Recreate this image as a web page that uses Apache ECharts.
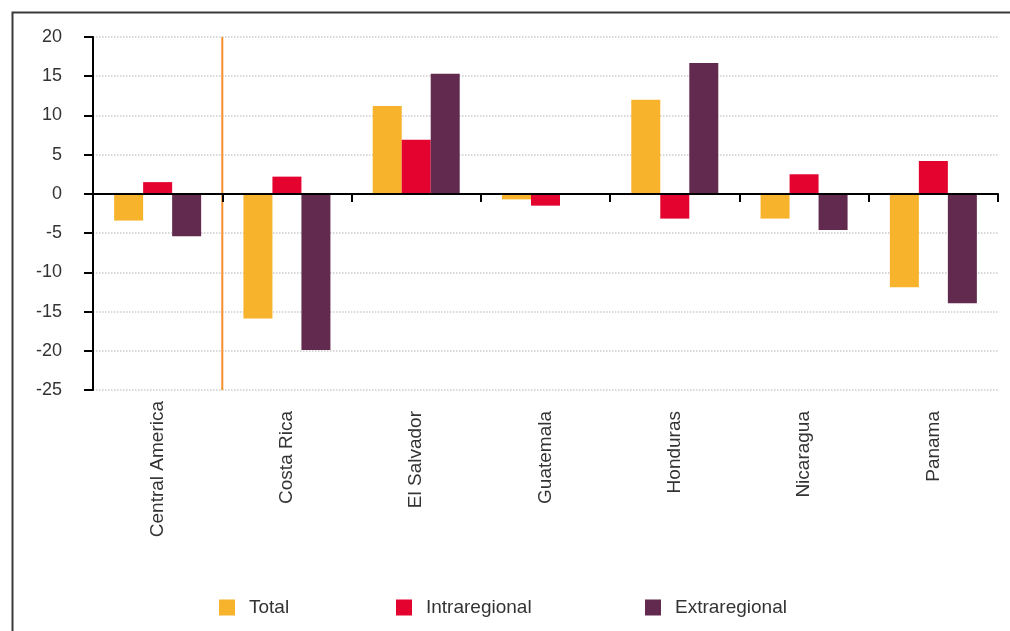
<!DOCTYPE html>
<html>
<head>
<meta charset="utf-8">
<script src="https://cdn.jsdelivr.net/npm/echarts@6/dist/echarts.min.js"></script>
<style>
html,body{margin:0;padding:0;background:#fff;}
#chart{width:1010px;height:631px;}
</style>
</head>
<body>
<div id="chart"></div>
<script>
const categories = ['Central America', 'Costa Rica', 'El Salvador', 'Guatemala', 'Honduras', 'Nicaragua', 'Panama'];
const seriesNames = ['Total', 'Intraregional', 'Extraregional'];
const totalValues = [-3.4, -15.9, 11.2, -0.7, 12.0, -3.15, -11.9];
const intraValues = [1.5, 2.2, 6.9, -1.5, -3.15, 2.5, 4.2];
const extraValues = [-5.4, -19.9, 15.3, 0, 16.7, -4.6, -13.95];
const yTicks = [-25, -20, -15, -10, -5, 0, 5, 10, 15, 20];
const dividerAt = 1; // boundary between Central America and the countries

const colors = ['#F7B32B', '#E4032E', '#622A4E'];
const font = 'Liberation Sans, Arial, sans-serif';

const chart = echarts.init(document.getElementById('chart'));
const legendLefts = [219, 396, 645];

chart.setOption({
  animation: false,
  backgroundColor: '#fff',
  graphic: [{
    type: 'rect', left: 10, top: 10, z: 100,
    shape: { width: 1100, height: 700 },
    style: { fill: 'none', stroke: '#3a3a3a', lineWidth: 2 }
  }],
  grid: { left: 93, right: 12, top: 37, bottom: 241, containLabel: false },
  legend: seriesNames.map((n, i) => ({
    data: [n], left: legendLefts[i], top: 598, padding: 0,
    itemWidth: 16, itemHeight: 16, icon: 'rect',
    textStyle: { fontFamily: font, fontSize: 19, color: '#333', padding: [0, 0, 0, 9] }
  })),
  xAxis: [
    {
      type: 'category', data: categories, position: 'bottom', z: 5,
      axisLine: { onZero: true, lineStyle: { color: '#000', width: 2 } },
      axisTick: { show: true, length: 8, lineStyle: { color: '#000', width: 2 } },
      axisLabel: { show: false },
      splitLine: { show: false }
    },
    {
      type: 'category', data: categories, position: 'bottom',
      axisLine: { show: false, onZero: false }, axisTick: { show: false },
      axisLabel: {
        rotate: 90, margin: 11, fontFamily: font, fontSize: 19, color: '#333',
        formatter: (v, i) => i === 0 ? v : '{p|' + v + '}',
        rich: { p: { fontFamily: font, fontSize: 19, color: '#333', padding: [0, 10, 0, 0] } }
      }
    },
    { type: 'value', min: 0, max: categories.length, show: false }
  ],
  yAxis: {
    type: 'value', min: yTicks[0], max: yTicks[yTicks.length - 1], interval: 5,
    axisLine: { show: true, lineStyle: { color: '#000', width: 2 } },
    axisTick: { show: true, length: 9, lineStyle: { color: '#000', width: 2 } },
    axisLabel: { margin: 31, fontFamily: font, fontSize: 18, color: '#333' },
    splitLine: { show: true, lineStyle: { type: 'dotted', color: '#cccccc', width: 1.5 } }
  },
  series: [
    { name: seriesNames[0], type: 'bar', data: totalValues, barWidth: 29, barGap: '0%', itemStyle: { color: colors[0] } },
    { name: seriesNames[1], type: 'bar', data: intraValues, barWidth: 29, barGap: '0%', itemStyle: { color: colors[1] } },
    { name: seriesNames[2], type: 'bar', data: extraValues, barWidth: 29, barGap: '0%', itemStyle: { color: colors[2] } },
    {
      type: 'line', xAxisIndex: 2, symbol: 'none', z: 4,
      data: [[dividerAt, yTicks[0]], [dividerAt, yTicks[yTicks.length - 1]]],
      lineStyle: { color: '#F4912A', width: 2 }, silent: true
    }
  ]
});
</script>
</body>
</html>
